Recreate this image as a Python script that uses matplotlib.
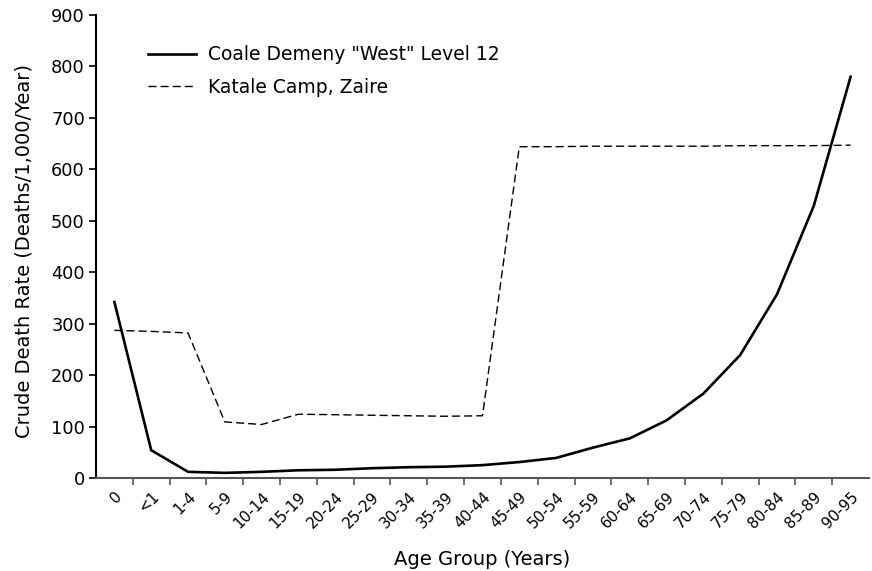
import matplotlib
matplotlib.use("Agg")
import matplotlib.pyplot as plt

# Age groups and death rates (deaths per 1,000 per year)
age_groups = ["0", "<1", "1-4", "5-9", "10-14", "15-19", "20-24", "25-29",
              "30-34", "35-39", "40-44", "45-49", "50-54", "55-59", "60-64",
              "65-69", "70-74", "75-79", "80-84", "85-89", "90-95"]
coale_demeny = [342, 54, 12, 10, 12, 15, 16, 19, 21, 22, 25, 31, 39, 59,
                77, 112, 164, 239, 357, 529, 780]
katale_camp = [287, 285, 282, 109, 104, 124, 123, 122, 121, 120, 121, 644,
               644, 645, 645, 645, 645, 646, 646, 646, 647]
y_ticks = list(range(0, 901, 100))

plt.rcParams["font.family"] = ["DejaVu Sans"]

fig = plt.figure(figsize=(8.72, 5.71), dpi=100)
ax = fig.add_axes([96 / 872, 1 - 478 / 571, (869 - 96) / 872, (478 - 15) / 571])

x = list(range(len(age_groups)))
ax.plot(x, coale_demeny, color="black", lw=1.9, solid_joinstyle="miter",
        label='Coale Demeny "West" Level 12')
ax.plot(x, katale_camp, color="black", lw=1.0, dashes=(5.8, 2.9),
        label="Katale Camp, Zaire")

ax.set_xlim(-0.5, len(age_groups) - 0.5)
ax.set_ylim(0, 900)
ax.set_yticks(y_ticks)
ax.set_xticks(x)
ax.set_xticklabels(age_groups, rotation=45, ha="right", va="top",
                   rotation_mode="anchor", fontsize=11)
ax.set_xticks([i + 0.5 for i in x[:-1]], minor=True)
ax.tick_params(axis="x", which="major", length=0, pad=8)
ax.tick_params(axis="x", which="minor", length=5, width=1.2, color="#555555")
ax.tick_params(axis="y", length=5, width=1.2, labelsize=12.8, pad=3)

for side in ("top", "right"):
    ax.spines[side].set_visible(False)
ax.spines["left"].set_linewidth(1.5)
ax.spines["left"].set_color("black")
ax.spines["bottom"].set_linewidth(1.5)
ax.spines["bottom"].set_color("#555555")

ax.set_xlabel("Age Group (Years)", fontsize=14)
ax.xaxis.set_label_coords(0.5, -0.1555)
ax.set_ylabel("Crude Death Rate (Deaths/1,000/Year)", fontsize=14)
ax.yaxis.set_label_coords(-0.0815, 0.49)

ax.legend(loc="upper left", bbox_to_anchor=(0.057, 0.951), frameon=False,
          fontsize=13.5, handlelength=2.56, handletextpad=0.69,
          labelspacing=0.72, borderaxespad=0)

fig.savefig("out.png", dpi=100)
